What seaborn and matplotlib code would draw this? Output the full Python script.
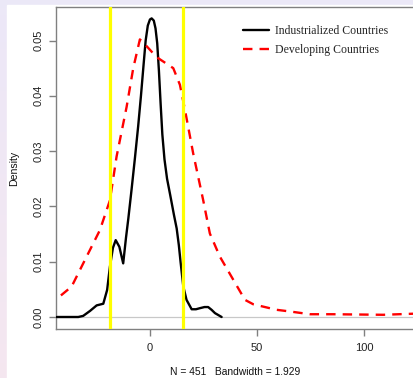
import matplotlib
matplotlib.use("Agg")
import matplotlib.pyplot as plt
import seaborn as sns
import numpy as np
import pandas as pd

# density curve for industrialized countries
ind_x = [-43.6, -33.5, -31.2, -28.0, -24.9, -21.8, -20.0, -18.7, -17.3, -16.0,
         -14.3, -12.5, -11.2, -10.1, -8.6, -7.0, -5.5, -4.2, -3.0, -2.0,
         -1.0, 0.0, 0.8, 1.8, 2.6, 3.4, 4.2, 5.0, 5.8, 6.8,
         8.0, 9.5, 11.2, 12.5, 13.5, 14.3, 15.6, 17.1, 19.5, 21.5,
         23.4, 25.5, 27.2, 28.8, 30.4, 33.5]
ind_y = [0.0, 0.0, 0.0002, 0.0011, 0.0021, 0.0024, 0.0049, 0.0091, 0.0125, 0.0139,
         0.0127, 0.0097, 0.0143, 0.0178, 0.0230, 0.0288, 0.0345, 0.0400, 0.0455, 0.0500,
         0.0527, 0.0538, 0.0540, 0.0536, 0.0522, 0.0495, 0.0445, 0.0385, 0.0330, 0.0285,
         0.0250, 0.0220, 0.0185, 0.0160, 0.0130, 0.0100, 0.0055, 0.0031, 0.0014, 0.0014,
         0.0016, 0.0018, 0.0018, 0.0013, 0.0007, 0.0]

# density curve for developing countries
dev_x = [-41.6, -36.6, -30.4, -23.4, -18.7, -15.6, -10.9, -7.8, -4.7, -1.6,
         3.1, 10.9, 14.0, 16.4, 20.2, 24.9, 28.0, 32.7, 39.0, 44.4,
         48.3, 59.2, 65.4, 74.8, 85.7, 109.0, 123.5]
dev_y = [0.0039, 0.0055, 0.0103, 0.0157, 0.0211, 0.0290, 0.0380, 0.0450, 0.0502, 0.0490,
         0.0470, 0.0450, 0.0420, 0.0374, 0.0296, 0.0211, 0.0151, 0.0109, 0.0067, 0.0031,
         0.0023, 0.0013, 0.0010, 0.0005, 0.0005, 0.0004, 0.0006]

cutoffs = [-18.7, 15.4]
x_ticks = [0, 50, 100]
y_ticks = [0.00, 0.01, 0.02, 0.03, 0.04, 0.05]

ind_df = pd.DataFrame({"x": ind_x, "y": ind_y})
dev_df = pd.DataFrame({"x": dev_x, "y": dev_y})

sns.set_style("white")
plt.rcParams["font.family"] = ["Liberation Sans", "DejaVu Sans"]

fig = plt.figure(figsize=(4.14, 3.78), dpi=100)

# lavender backdrop with a white panel
bg = fig.add_axes([0, 0, 1, 1], zorder=-2)
grad = np.linspace(0, 1, 100).reshape(-1, 1)
top_c = np.array([0.925, 0.910, 0.972])
bot_c = np.array([0.960, 0.905, 0.940])
img = top_c + grad[..., None] * (bot_c - top_c)
bg.imshow(img, aspect="auto", extent=[0, 1, 0, 1])
bg.add_patch(plt.Rectangle((7 / 414, 0), 1, 1 - 5 / 378, color="white"))
bg.set_xlim(0, 1)
bg.set_ylim(0, 1)
bg.axis("off")

ax = fig.add_axes([56 / 414, 49 / 378, 1 - 56 / 414, 322 / 378])
ax.set_facecolor("none")

ax.axhline(0, color="#c8c8c8", lw=0.9, zorder=1)
sns.lineplot(data=ind_df, x="x", y="y", ax=ax, sort=False, color="black",
             lw=1.7, label="Industrialized Countries", zorder=3)
sns.lineplot(data=dev_df, x="x", y="y", ax=ax, sort=False, color="#ff0000",
             lw=1.7, linestyle=(0, (4, 3)), label="Developing Countries", zorder=3)
for c in cutoffs:
    ax.axvline(c, color="#ffff00", lw=2.3, zorder=4)

ax.set_xlim(-43.9, 123.4)
ax.set_ylim(-0.00217, 0.05606)
ax.set_xticks(x_ticks)
ax.set_yticks(y_ticks)
ax.set_xticklabels([str(t) for t in x_ticks])
ax.set_yticklabels([f"{t:.2f}" for t in y_ticks], rotation=90, va="center")

for side in ["left", "bottom", "top"]:
    ax.spines[side].set_visible(True)
    ax.spines[side].set_color("#808080")
    ax.spines[side].set_linewidth(1.0)
ax.spines["right"].set_visible(False)

ax.tick_params(axis="both", direction="out", length=5, width=1.0, color="#808080",
               labelsize=8, labelcolor="#222222", pad=4)
ax.tick_params(axis="x", pad=5)
ax.tick_params(bottom=True, left=True)

ax.set_xlabel("N = 451   Bandwidth = 1.929", fontsize=7.4, color="#111111", labelpad=10)
ax.set_ylabel("Density", fontsize=7.6, color="#111111", labelpad=10.5)

ax.legend(frameon=False, loc="upper left", bbox_to_anchor=(0.522, 0.943),
          borderaxespad=0, borderpad=0, handlelength=2.2, handletextpad=0.5,
          labelspacing=0.55, prop={"family": "Liberation Serif", "size": 8.5})

fig.savefig("out.png", dpi=100)
